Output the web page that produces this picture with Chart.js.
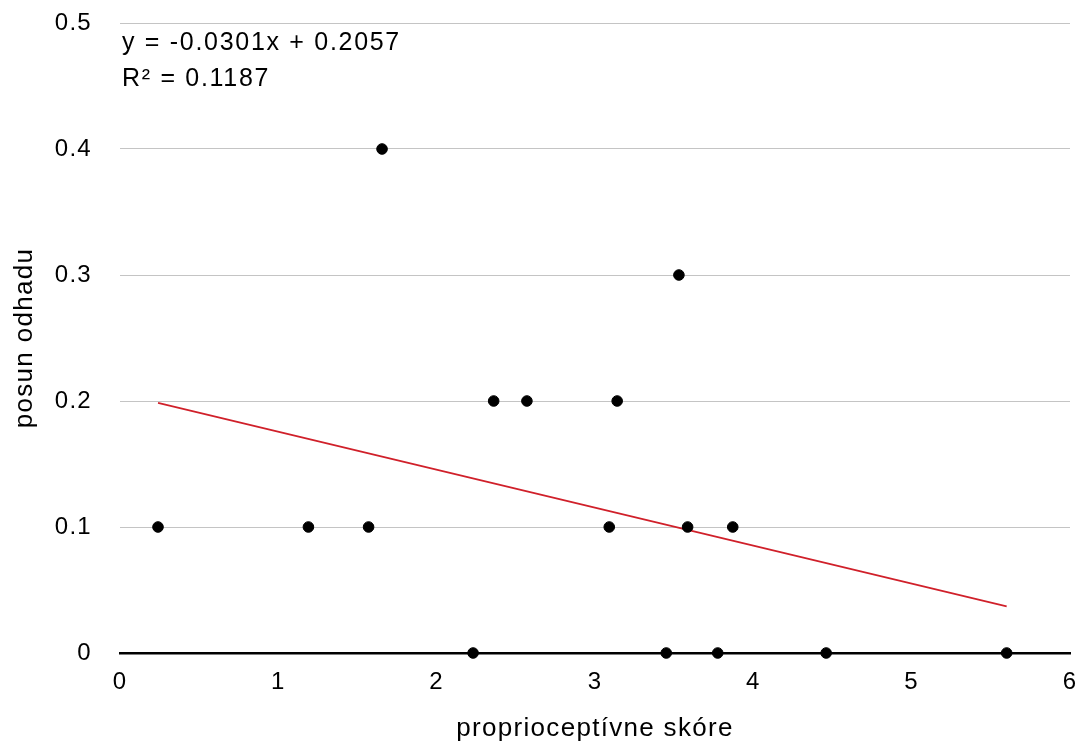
<!DOCTYPE html>
<html>
<head>
<meta charset="utf-8">
<script src="https://cdn.jsdelivr.net/npm/chart.js@4.4.1/dist/chart.umd.min.js"></script>
<style>
  html, body { margin: 0; padding: 0; background: #fff; }
  #wrap { width: 1083px; height: 747px; position: relative; }
</style>
</head>
<body>
<div id="wrap"><canvas id="scatterChart" width="1083" height="747"></canvas></div>
<script>
// proprioceptívne skóre vs. posun odhadu
const scoreX = [0.24, 1.19, 1.57, 1.655, 2.23, 2.36, 2.57, 3.09, 3.14, 3.45, 3.53, 3.585, 3.775, 3.87, 4.46, 5.60];
const shiftY = [0.1, 0.1, 0.1, 0.4, 0, 0.2, 0.2, 0.1, 0.2, 0, 0.3, 0.1, 0, 0.1, 0, 0];

// trendline endpoints as drawn
const trendX = [0.24, 5.60];
const trendY = [0.1985, 0.037];

const equationLines = ['y = -0.0301x + 0.2057', 'R² = 0.1187'];

const FONT = '"Liberation Sans", Arial, Helvetica, sans-serif';

// the reference typeface runs a little wider than Liberation Sans
const wideText = {
    id: 'wideText',
    beforeDraw(chart) {
        chart.ctx.letterSpacing = '1.3px';
    }
};

const equationLabel = {
    id: 'equationLabel',
    afterDraw(chart) {
        const { ctx, chartArea } = chart;
        ctx.save();
        ctx.letterSpacing = '1.7px';
        ctx.fillStyle = '#000';
        ctx.font = '25px ' + FONT;
        ctx.textBaseline = 'alphabetic';
        ctx.textAlign = 'left';
        ctx.fillText(equationLines[0], chartArea.left + 2, 50);
        ctx.fillText(equationLines[1], chartArea.left + 2, 86);
        ctx.restore();
    }
};

const ctx = document.getElementById('scatterChart');

new Chart(ctx, {
    type: 'scatter',
    data: {
        datasets: [
            {
                label: 'posun odhadu',
                data: scoreX.map((x, i) => ({ x: x, y: shiftY[i] })),
                backgroundColor: '#000',
                borderColor: '#000',
                pointRadius: 5.3,
                pointHoverRadius: 5.3,
                clip: false,
                order: 1
            },
            {
                label: 'trend',
                type: 'line',
                data: trendX.map((x, i) => ({ x: x, y: trendY[i] })),
                borderColor: '#d0202a',
                borderWidth: 1.6,
                pointRadius: 0,
                fill: false,
                order: 2
            }
        ]
    },
    plugins: [wideText, equationLabel],
    options: {
        responsive: false,
        animation: false,
        layout: { padding: { left: 0, right: 13, top: 23, bottom: 0 } },
        plugins: {
            legend: { display: false },
            tooltip: { enabled: false }
        },
        scales: {
            x: {
                type: 'linear',
                min: 0,
                max: 6,
                ticks: { stepSize: 1, color: '#000', font: { family: FONT, size: 24 }, padding: 15 },
                grid: { display: false, drawTicks: false },
                border: { display: true, color: '#000', width: 2.5, z: -1 },
                title: {
                    display: true,
                    text: 'proprioceptívne skóre',
                    color: '#000',
                    font: { family: FONT, size: 26 },
                    padding: { top: 4, bottom: 3 }
                },
                afterFit(scale) {
                    scale.height = 747 - 653;
                    scale.paddingLeft = 0;
                    scale.paddingRight = 0;
                }
            },
            y: {
                type: 'linear',
                min: 0,
                max: 0.5,
                ticks: {
                    stepSize: 0.1,
                    color: '#000',
                    font: { family: FONT, size: 24 },
                    padding: 28,
                    callback: v => (Math.round(v * 10) / 10).toString()
                },
                grid: {
                    drawTicks: false,
                    color: c => c.tick.value === 0 ? 'rgba(0,0,0,0)' : '#c4c4c4',
                    lineWidth: 1
                },
                border: { display: false },
                title: {
                    display: true,
                    text: 'posun odhadu',
                    color: '#000',
                    font: { family: FONT, size: 26 },
                    padding: { top: 9, bottom: 4 }
                },
                afterFit(scale) {
                    scale.width = 120;
                    scale.paddingTop = 0;
                    scale.paddingBottom = 0;
                }
            }
        }
    }
});
</script>
</body>
</html>
